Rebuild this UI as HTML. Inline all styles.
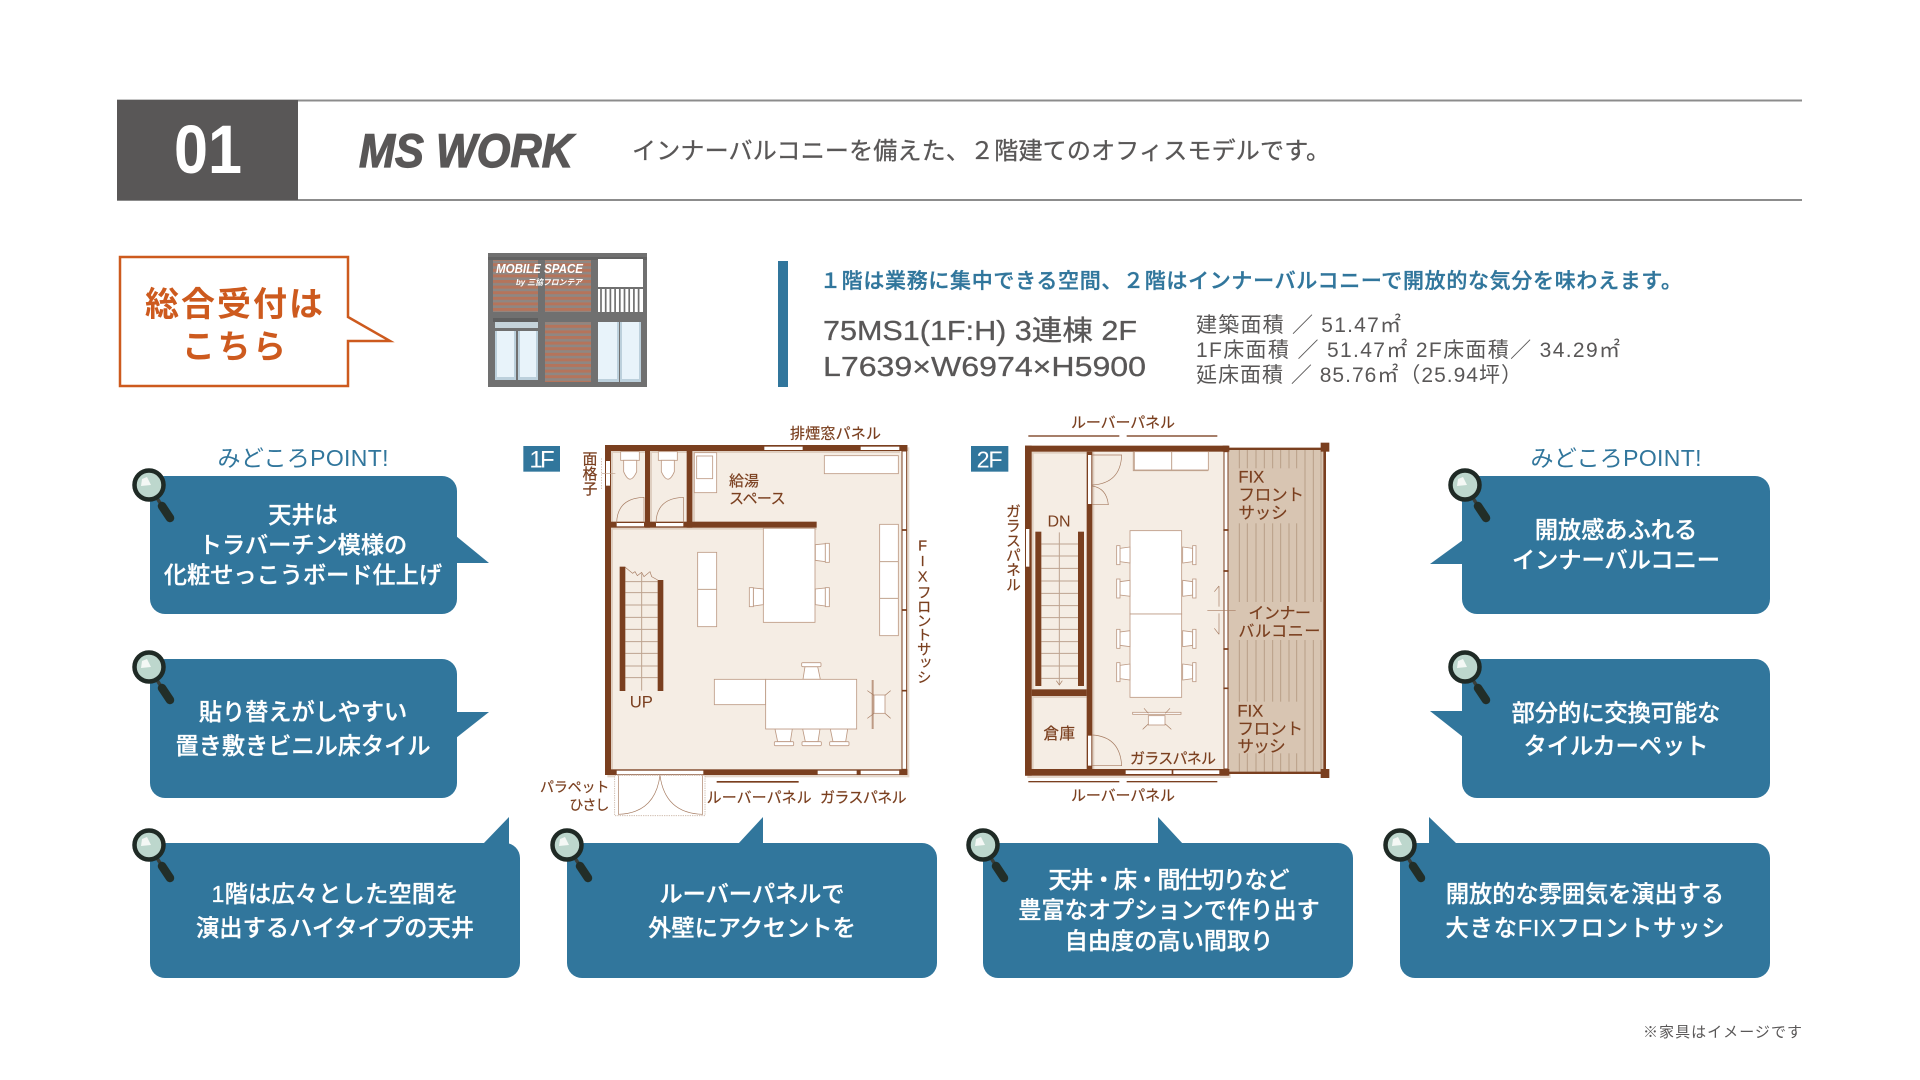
<!DOCTYPE html>
<html lang="ja"><head><meta charset="utf-8"><title>MS WORK</title>
<style>
html,body{margin:0;padding:0;background:#fff}
svg{display:block}
text{font-family:"Liberation Sans","Noto Sans CJK JP",sans-serif}
.b{fill:#fff;stroke:#fff;stroke-width:.3;font-size:23.2px;font-weight:500;text-anchor:middle}
.p{fill:#31769c;font-size:23px;text-anchor:middle}
.f{fill:#7a3f1f;stroke:#7a3f1f;stroke-width:.6;font-size:45px}
.s{fill:#595757;font-size:21px}
.fu{fill:#fff;stroke:#bd9a84;stroke-width:2.5}
.l{fill:none;stroke:#a67c62;stroke-width:2}
.w{fill:#7a3f1f}
.g{fill:#fff}
.t{fill:none;stroke:#c0a28d;stroke-width:3}
.st{fill:none;stroke:#bda38f;stroke-width:3}
.sh{fill:#dfcfc1}
</style></head><body>
<svg width="1920" height="1080" viewBox="0 0 1920 1080" xmlns="http://www.w3.org/2000/svg">
<defs>
<pattern id="lv" width="6" height="5.6" patternUnits="userSpaceOnUse"><rect width="6" height="5.6" fill="#8f8783"/><rect width="6" height="3" fill="#b5745b"/></pattern>
<g id="mag">
<path d="M8 13 L13 21" stroke="#3a3f3a" stroke-width="3.5"/>
<path d="M13 21 L21 33" stroke="#222e28" stroke-width="8.5" stroke-linecap="round"/>
<circle cx="0" cy="0" r="14.5" fill="#bdd7cd" stroke="#1f2a25" stroke-width="4.5"/>
<path d="M-8 1 L-7 -6 L-2 -8 L2 0 Z" fill="#f4f8f5"/>
</g>
<g id="chR"><path d="M0 4 L30 1 L30 55 L0 51 Z" class="fu"/><rect x="30" y="0" width="12" height="57" class="fu"/></g>
<g id="chU"><path d="M4 50 L10 12 L48 12 L56 50 Z" class="fu"/><rect x="0" y="0" width="58" height="12" rx="3" class="fu"/></g>
<g id="ch2"><path d="M0 4 L30 8 L30 48 L0 52 Z" class="fu"/><rect x="30" y="0" width="10" height="57" class="fu"/></g>
</defs>
<rect width="1920" height="1080" fill="#fff"/>

<!-- header -->
<line x1="117" y1="100.5" x2="1802" y2="100.5" stroke="#8c8c8c" stroke-width="2"/>
<line x1="117" y1="200" x2="1802" y2="200" stroke="#8c8c8c" stroke-width="2"/>
<rect x="117" y="100" width="181" height="100" fill="#595757"/>
<text x="174" y="173" font-size="69" font-weight="700" fill="#fff" textLength="68" lengthAdjust="spacingAndGlyphs">01</text>
<text x="359" y="167" font-size="47" font-weight="700" font-style="italic" fill="#595757" stroke="#595757" stroke-width="1.2" textLength="214" lengthAdjust="spacingAndGlyphs">MS WORK</text>
<text x="632" y="159" font-size="24" fill="#595757" stroke="#595757" stroke-width=".3" textLength="698">インナーバルコニーを備えた、２階建てのオフィスモデルです。</text>

<!-- orange callout -->
<path d="M120 257 H348 V317 L390 341 H348 V386 H120 Z" fill="#fff" stroke="#cd5a1e" stroke-width="2.5"/>
<text x="145" y="316" font-size="34" font-weight="700" fill="#cd5a1e" textLength="178">総合受付は</text>
<text x="182" y="358" font-size="33" font-weight="700" fill="#cd5a1e" textLength="104">こちら</text>

<!-- building -->
<rect x="488" y="253" width="159" height="134" fill="#707070"/>
<rect x="488" y="257" width="159" height="3" fill="#626262"/>
<rect x="493" y="260" width="45" height="52" fill="url(#lv)"/>
<rect x="545" y="260" width="46" height="52" fill="url(#lv)"/>
<rect x="598" y="259" width="45" height="28" fill="#fff"/>
<rect x="598" y="289" width="45" height="23" fill="#fff"/>
<g stroke="#707070" stroke-width="1.7"><path d="M601 289V312M605.700 289V312M610.400 289V312M615.100 289V312M619.800 289V312M624.500 289V312M629.200 289V312M633.900 289V312M638.600 289V312"/></g>
<rect x="493" y="318" width="45" height="4" fill="#5f5f5f"/>
<rect x="495" y="322" width="43" height="6" fill="#c5d3da"/>
<rect x="495" y="331" width="21" height="49" fill="#bcd0dc"/>
<rect x="518" y="331" width="20" height="49" fill="#bcd0dc"/>
<rect x="497" y="331" width="17" height="46" fill="#e8f3fa"/>
<rect x="520" y="331" width="16" height="46" fill="#e8f3fa"/>
<rect x="545" y="322" width="46" height="60" fill="url(#lv)"/>
<rect x="598" y="322" width="21" height="60" fill="#bcd0dc"/>
<rect x="620" y="322" width="21" height="60" fill="#bcd0dc"/>
<rect x="598" y="322" width="19" height="57" fill="#e8f3fa"/>
<rect x="622" y="322" width="17" height="57" fill="#e8f3fa"/>
<text x="496" y="273" font-size="12.5" font-weight="700" font-style="italic" fill="#fff" textLength="87" lengthAdjust="spacingAndGlyphs">MOBILE SPACE</text>
<text x="516" y="285" font-size="8" font-weight="700" font-style="italic" fill="#fff" textLength="66" lengthAdjust="spacingAndGlyphs">by 三協フロンテア</text>

<!-- spec -->
<rect x="778" y="261" width="10" height="126" fill="#31769c"/>
<text x="820" y="288" font-size="21" font-weight="500" fill="#31769c" stroke="#31769c" stroke-width=".35" textLength="862">１階は業務に集中できる空間、２階はインナーバルコニーで開放的な気分を味わえます。</text>
<text x="823" y="340" font-size="28" fill="#595757" stroke="#595757" stroke-width=".3" textLength="314" lengthAdjust="spacingAndGlyphs">75MS1(1F:H) 3連棟 2F</text>
<text x="823" y="376" font-size="28" fill="#595757" stroke="#595757" stroke-width=".3" textLength="323" lengthAdjust="spacingAndGlyphs">L7639×W6974×H5900</text>
<text x="1196" y="332" class="s" textLength="205">建築面積 ／ 51.47㎡</text>
<text x="1196" y="357" class="s" textLength="424">1F床面積 ／ 51.47㎡  2F床面積／ 34.29㎡</text>
<text x="1196" y="382" class="s" textLength="326">延床面積 ／ 85.76㎡（25.94坪）</text>

<!-- blue callouts -->
<g fill="#31769c">
<rect x="150" y="476" width="307" height="138" rx="15"/><path d="M456 536 L489 563 H456 Z"/>
<rect x="150" y="659" width="307" height="139" rx="15"/><path d="M456 712 H489 L456 738 Z"/>
<rect x="150" y="843" width="370" height="135" rx="15"/><path d="M483 844 L509 817 V844 Z"/>
<rect x="567" y="843" width="370" height="135" rx="15"/><path d="M738 844 L763 817 V844 Z"/>
<rect x="983" y="843" width="370" height="135" rx="15"/><path d="M1158 844 V817 L1183 844 Z"/>
<rect x="1400" y="843" width="370" height="135" rx="15"/><path d="M1429 844 V817 L1457 844 Z"/>
<rect x="1462" y="476" width="308" height="138" rx="15"/><path d="M1463 540 L1430 564 H1463 Z"/>
<rect x="1462" y="659" width="308" height="139" rx="15"/><path d="M1430 711 H1463 V737 Z"/>
</g>
<use href="#mag" x="149" y="485"/><use href="#mag" x="149" y="667"/><use href="#mag" x="149" y="845"/>
<use href="#mag" x="567" y="845"/><use href="#mag" x="983" y="845"/><use href="#mag" x="1400" y="845"/>
<use href="#mag" x="1465" y="485"/><use href="#mag" x="1465" y="667"/>

<text x="303" y="466" class="p" textLength="171">みどころPOINT!</text>
<text x="1616" y="466" class="p" textLength="171">みどころPOINT!</text>

<text x="303" y="523" class="b">天井は</text>
<text x="303" y="553" class="b">トラバーチン模様の</text>
<text x="303" y="583" class="b">化粧せっこうボード仕上げ</text>
<text x="303" y="720" class="b">貼り替えがしやすい</text>
<text x="303" y="754" class="b">置き敷きビニル床タイル</text>
<text x="335" y="902" class="b" textLength="247">1階は広々とした空間を</text>
<text x="335" y="936" class="b" textLength="278">演出するハイタイプの天井</text>
<text x="752" y="902" class="b">ルーバーパネルで</text>
<text x="752" y="936" class="b">外壁にアクセントを</text>
<text x="1169" y="888" class="b" textLength="241">天井・床・間仕切りなど</text>
<text x="1169" y="918" class="b">豊富なオプションで作り出す</text>
<text x="1169" y="949" class="b">自由度の高い間取り</text>
<text x="1585" y="902" class="b">開放的な雰囲気を演出する</text>
<text x="1585" y="936" class="b" textLength="279">大きなFIXフロントサッシ</text>
<text x="1616" y="538" class="b">開放感あふれる</text>
<text x="1616" y="568" class="b">インナーバルコニー</text>
<text x="1616" y="721" class="b">部分的に交換可能な</text>
<text x="1616" y="754" class="b">タイルカーペット</text>

<text x="1643" y="1037" font-size="15" fill="#595757" textLength="159">※家具はイメージです</text>

<!-- 1F -->
<g transform="translate(520 410) scale(.33333)">
<rect x="262" y="112" width="906" height="990" fill="#e5d8cc"/>
<rect x="255" y="105" width="907" height="990" fill="#f5ede4"/>
<rect x="10" y="108" width="110" height="77" fill="#31769c"/>
<text x="28" y="172" font-size="72" fill="#fff" textLength="76">1F</text>
<!-- wall shadows -->
<rect class="sh" x="273" y="123" width="867" height="6"/>
<rect class="sh" x="273" y="123" width="6" height="212"/>
<rect class="sh" x="390" y="123" width="6" height="212"/>
<rect class="sh" x="517" y="123" width="8" height="212"/>
<rect class="sh" x="273" y="353" width="617" height="6"/>
<rect class="sh" x="273" y="353" width="6" height="725"/>
<!-- walls -->
<rect class="w" x="255" y="105" width="907" height="18"/>
<rect class="w" x="255" y="105" width="18" height="990"/>
<rect class="w" x="255" y="1078" width="907" height="17"/>
<rect class="w" x="375" y="123" width="15" height="230"/>
<rect class="w" x="500" y="123" width="17" height="230"/>
<rect class="w" x="273" y="335" width="617" height="18"/>
<rect class="g" x="733" y="110" width="115" height="10"/>
<rect class="g" x="1022" y="110" width="116" height="10"/>
<rect class="g" x="290" y="1082" width="260" height="11"/>
<rect class="g" x="893" y="1082" width="117" height="11"/>
<rect class="g" x="1022" y="1082" width="116" height="11"/>
<rect class="g" x="290" y="339" width="82" height="10"/>
<rect class="g" x="408" y="339" width="82" height="10"/>
<rect class="g" x="1146" y="123" width="14" height="955" stroke="#7a3f1f" stroke-width="3"/>
<path d="M1146 360H1160M1146 600H1160M1146 842H1160" stroke="#7a3f1f" stroke-width="5"/>
<rect class="w" x="1140" y="105" width="22" height="18"/>
<rect class="w" x="1138" y="1078" width="24" height="17"/>
<!-- toilets -->
<rect class="fu" x="302" y="125" width="56" height="26"/><path class="fu" d="M311 151 V185 Q330 230 350 185 V151 Z"/>
<rect class="fu" x="415" y="125" width="57" height="26"/><path class="fu" d="M424 151 V185 Q444 230 463 185 V151 Z"/>
<path class="l" d="M290 338 Q292 265 372 262 V338"/>
<path class="l" d="M408 338 Q410 265 490 262 V338"/>
<!-- face grid -->
<rect class="g" x="258" y="153" width="12" height="74"/>
<path d="M245 145V240" stroke="#c0a28d" stroke-width="2" stroke-dasharray="4 4"/>
<path d="M245 190H286" stroke="#c0a28d" stroke-width="2"/>
<!-- kitchen etc -->
<rect class="fu" x="523" y="128" width="67" height="120"/><rect class="fu" x="530" y="138" width="48" height="68"/>
<rect class="fu" x="913" y="137" width="222" height="54"/>
<rect class="fu" x="1079" y="343" width="56" height="334"/><path class="t" d="M1079 455H1135M1079 565H1135"/>
<rect class="fu" x="533" y="427" width="57" height="223"/><path class="t" d="M533 538H590"/>
<rect class="fu" x="730" y="355" width="155" height="282"/>
<use href="#chR" x="886" y="400"/><use href="#chR" x="886" y="533"/>
<use href="#chR" transform="translate(730 533) scale(-1 1)"/>
<!-- stairs -->
<path class="st" d="M316 515H413M316 548H413M316 585H413M316 622H413M316 658H413M316 695H413M316 730H413M316 768H413M316 803H413M365 490V842"/>
<path class="l" d="M316 472 L338 490 L345 485 L352 497 L365 487 L372 500 L390 485 L395 500 L413 510"/>
<rect class="w" x="299" y="470" width="17" height="373"/>
<rect class="w" x="413" y="510" width="17" height="333"/>
<text x="364" y="892" font-size="50" fill="#7a3f1f" text-anchor="middle">UP</text>
<!-- lower table -->
<rect class="fu" x="583" y="808" width="154" height="76"/>
<use href="#chU" x="845" y="758"/>
<use href="#chU" transform="translate(821 1007) scale(-1 -1)"/>
<use href="#chU" transform="translate(904 1007) scale(-1 -1)"/>
<use href="#chU" transform="translate(987 1007) scale(-1 -1)"/>
<rect class="fu" x="737" y="808" width="273" height="149"/>
<path d="M1058 810V957" stroke="#bd9a84" stroke-width="6"/>
<rect class="fu" x="1062" y="855" width="33" height="55"/>
<path class="l" d="M1042 842L1062 856M1112 842L1095 856M1042 925L1062 910M1112 925L1095 910"/>
<!-- outer door -->
<rect x="284" y="1096" width="271" height="121" fill="#fff" stroke="#c9b3a3" stroke-width="2.5" stroke-dasharray="4 3"/>
<path class="l" d="M295 1096V1213 Q405 1210 420 1096 Q435 1210 548 1213 V1096"/>
<!-- labels -->
<text x="810" y="86" class="f" textLength="273">排煙窓パネル</text>
<text x="207" y="122" class="f" style="writing-mode:vertical-rl;text-anchor:start">面格子</text>
<text x="627" y="228" class="f">給湯</text>
<text x="627" y="281" class="f" textLength="170">スペース</text>
<text x="1208" y="385" class="f" style="writing-mode:vertical-rl;text-orientation:upright;font-size:44px" textLength="438">FIXフロントサッシ</text>
<text x="60" y="1146" class="f" style="font-size:42px" textLength="208">パラペット</text>
<text x="148" y="1200" class="f" style="font-size:42px" textLength="120">ひさし</text>
<rect class="w" x="590" y="1113" width="246" height="5"/>
<text x="560" y="1177" class="f" textLength="315">ルーバーパネル</text>
<text x="900" y="1177" class="f" textLength="260">ガラスパネル</text>
</g>

<!-- 2F -->
<g transform="translate(960 400) scale(.33333)">
<rect x="202" y="144" width="610" height="990" fill="#e5d8cc"/>
<rect x="195" y="137" width="610" height="990" fill="#f5ede4"/>
<rect x="33" y="138" width="112" height="77" fill="#31769c"/>
<text x="50" y="202" font-size="70" fill="#fff" textLength="78">2F</text>
<!-- balcony -->
<rect x="806" y="143" width="284" height="977" fill="#d8c5b2"/>
<path stroke="#b89f88" stroke-width="3" d="M838 147V1115M862 147V1115M888 147V1115M913 147V1115M938 147V1115M962 147V1115M987 147V1115M1010 147V1115M1035 147V1115M1060 147V1115M1083 147V1115"/>
<rect x="815" y="205" width="215" height="165" fill="#d8c5b2"/>
<rect x="815" y="606" width="275" height="114" fill="#d8c5b2"/>
<rect x="815" y="905" width="215" height="155" fill="#d8c5b2"/>
<rect class="w" x="805" y="143" width="290" height="7"/>
<rect class="w" x="805" y="1115" width="290" height="7"/>
<rect class="w" x="1090" y="143" width="8" height="979"/>
<rect class="w" x="1082" y="128" width="26" height="27"/>
<rect class="w" x="1082" y="1107" width="26" height="27"/>
<!-- wall shadows -->
<rect class="sh" x="215" y="155" width="6" height="713"/>
<rect class="sh" x="215" y="155" width="165" height="6"/>
<rect class="sh" x="215" y="888" width="165" height="6"/>
<rect class="sh" x="215" y="888" width="6" height="219"/>
<rect class="sh" x="397" y="155" width="6" height="952"/>
<!-- walls -->
<rect class="w" x="195" y="137" width="610" height="18"/>
<rect class="w" x="195" y="137" width="20" height="990"/>
<rect class="w" x="195" y="1107" width="610" height="20"/>
<rect class="w" x="380" y="155" width="17" height="952"/>
<rect class="w" x="215" y="868" width="165" height="20"/>
<rect class="g" x="198" y="387" width="10" height="113"/>
<rect class="g" x="384" y="165" width="10" height="147"/>
<rect class="g" x="384" y="1007" width="10" height="90"/>
<rect class="g" x="497" y="1111" width="138" height="11"/>
<rect class="g" x="640" y="1111" width="138" height="11"/>
<rect class="g" x="792" y="155" width="12" height="952" stroke="#7a3f1f" stroke-width="3"/>
<path d="M790 390H806M790 513H806M790 747H806M790 865H806" stroke="#7a3f1f" stroke-width="5"/>
<rect class="w" x="780" y="1107" width="28" height="20"/>
<rect class="w" x="788" y="137" width="20" height="18"/>
<!-- sofa -->
<rect class="fu" x="523" y="155" width="222" height="55"/><path class="t" d="M635 155V210M520 155V212H745"/>
<!-- doors -->
<path class="l" d="M397 165H485 Q482 250 397 255"/>
<path class="l" d="M397 258 Q440 265 445 314 H397"/>
<path class="l" d="M397 1005 Q480 1010 485 1097 H397"/>
<!-- stairs -->
<path class="st" d="M244 432H354M244 468H354M244 505H354M244 543H354M244 580H354M244 617H354M244 653H354M244 688H354M244 725H354M244 760H354M244 798H354M244 835H354M298 397V855"/>
<path class="l" d="M289 842L298 855L307 842"/>
<rect class="w" x="226" y="395" width="18" height="463"/>
<rect class="w" x="354" y="395" width="18" height="463"/>
<text x="297" y="379" font-size="48" fill="#7a3f1f" text-anchor="middle">DN</text>
<!-- tables -->
<rect class="fu" x="510" y="392" width="155" height="250"/>
<rect class="fu" x="510" y="642" width="155" height="250"/>
<use href="#ch2" x="668" y="437"/><use href="#ch2" x="668" y="537"/><use href="#ch2" x="668" y="688"/><use href="#ch2" x="668" y="788"/>
<use href="#ch2" transform="translate(510 437) scale(-1 1)"/>
<use href="#ch2" transform="translate(510 537) scale(-1 1)"/>
<use href="#ch2" transform="translate(510 688) scale(-1 1)"/>
<use href="#ch2" transform="translate(510 788) scale(-1 1)"/>
<rect class="fu" x="518" y="937" width="145" height="6"/>
<rect class="fu" x="565" y="947" width="50" height="28"/>
<path class="l" d="M548 988L565 972M634 988L616 972M552 925L565 940M630 925L616 940"/>
<!-- arrows -->
<path class="l" d="M742 632H827M777 558V620M777 558L763 575M777 703V640M777 703L763 685"/>
<!-- labels -->
<rect class="w" x="205" y="106" width="273" height="4"/>
<rect class="w" x="500" y="106" width="272" height="4"/>
<rect class="w" x="205" y="1143" width="273" height="4"/>
<rect class="w" x="500" y="1143" width="272" height="4"/>
<text x="333" y="83" class="f" textLength="312">ルーバーパネル</text>
<text x="333" y="1202" class="f" textLength="312">ルーバーパネル</text>
<text x="157" y="310" class="f" style="writing-mode:vertical-rl" textLength="265">ガラスパネル</text>
<text x="835" y="247" class="f" style="font-size:50px">FIX</text>
<text x="835" y="301" class="f" style="font-size:50px" textLength="197">フロント</text>
<text x="835" y="356" class="f" style="font-size:50px" textLength="148">サッシ</text>
<text x="832" y="949" class="f" style="font-size:50px">FIX</text>
<text x="832" y="1003" class="f" style="font-size:50px" textLength="197">フロント</text>
<text x="832" y="1056" class="f" style="font-size:50px" textLength="145">サッシ</text>
<text x="865" y="655" class="f" style="font-size:48px" textLength="188">インナー</text>
<text x="835" y="709" class="f" style="font-size:48px" textLength="246">バルコニー</text>
<text x="250" y="1017" class="f" style="font-size:47px" textLength="95">倉庫</text>
<text x="510" y="1091" class="f" textLength="258">ガラスパネル</text>
</g>
</svg>
</body></html>
